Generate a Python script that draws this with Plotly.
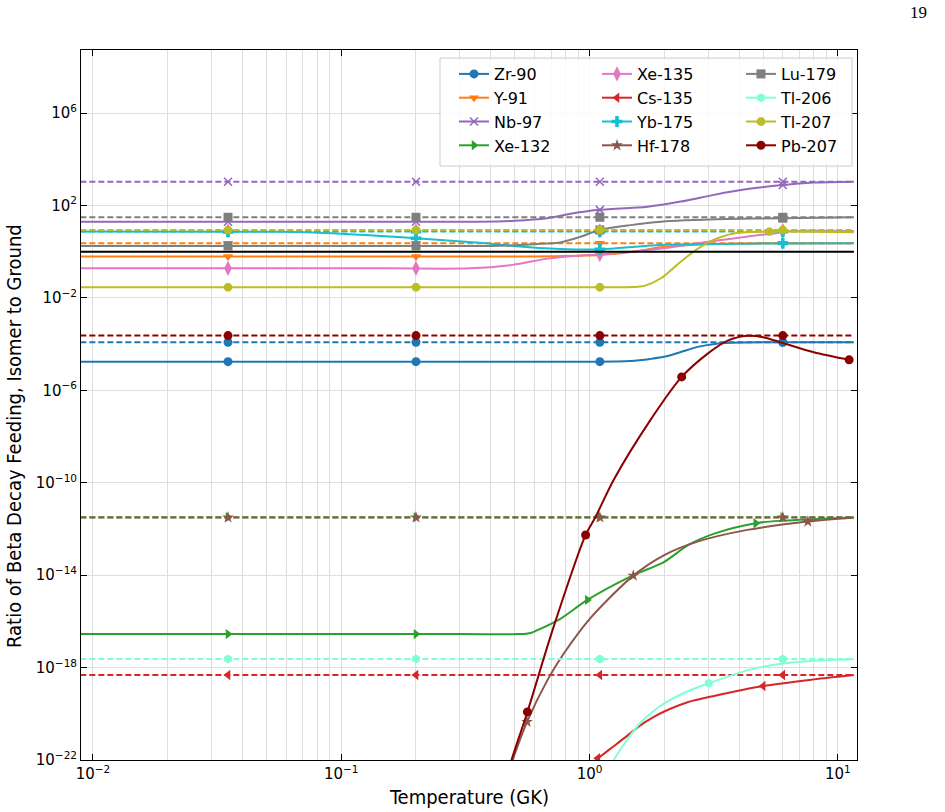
import plotly.graph_objects as go

# ---------------- data (log10 of the isomer/ground feeding ratio) ----------------
NAMES = ["Zr-90", "Y-91", "Nb-97", "Xe-132", "Xe-135", "Cs-135",
         "Yb-175", "Hf-178", "Lu-179", "Tl-206", "Tl-207", "Pb-207"]
COLORS = ["#1f77b4", "#ff7f0e", "#9467bd", "#2ca02c", "#e377c2", "#d62728",
          "#17becf", "#8c564b", "#7f7f7f", "#7fffd4", "#bcbd22", "#8b0000"]
SYMBOLS = ["circle", "triangle-down", "x-thin", "triangle-right", "diamond-tall",
           "triangle-left", "cross", "star", "square", "hexagon", "octagon", "circle"]

# dashed (constant) levels
DASH_LOG = [-3.92, 0.37, 3.03, -11.49, 0.90, -18.32, 0.87, -11.50, 1.49, -17.63, 0.94, -3.63]
DASH_T = [0.0089, 11.6]
DASH_MARK_T = [0.035, 0.2, 1.1, 6.0]
UNITY_T = [0.0089, 11.6]
UNITY = [1.0, 1.0]

# solid curves
ZR90_T = [0.0089, 0.5, 1.0, 1.25, 1.46, 1.76, 2.02, 2.4, 2.72, 3.2, 3.7, 5.0, 11.6]
ZR90_LOG = [-4.76, -4.76, -4.76, -4.75, -4.73, -4.64, -4.54, -4.30, -4.12, -3.99, -3.94, -3.92, -3.92]
ZR90_MK_T = [0.035, 0.2, 1.1, 6.0]
ZR90_MK_LOG = [-4.76, -4.76, -4.76, -3.92]

Y91_T = [0.0089, 0.3, 0.6, 0.92, 1.1, 1.5, 1.94, 2.86, 4.5, 6.0, 11.6]
Y91_LOG = [-0.21, -0.21, -0.21, -0.17, -0.14, 0.0, 0.19, 0.32, 0.36, 0.37, 0.37]
Y91_MK_T = [0.035, 0.2, 1.1, 6.0]
Y91_MK_LOG = [-0.21, -0.21, -0.14, 0.37]

NB97_T = [0.0089, 0.2, 0.36, 0.5, 0.675, 0.85, 1.07, 1.71, 2.33, 3.17, 4.32, 6.0, 8.0, 11.6]
NB97_LOG = [1.30, 1.30, 1.30, 1.34, 1.45, 1.65, 1.80, 1.95, 2.17, 2.46, 2.71, 2.89, 2.99, 3.03]
NB97_MK_T = [0.035, 0.2, 1.1, 6.0]
NB97_MK_LOG = [1.30, 1.30, 1.81, 2.89]

XE132_T = [0.0089, 0.3, 0.52, 0.58, 0.62, 0.76, 0.98, 1.46, 2.0, 2.5, 3.2, 4.67, 6.0, 11.6]
XE132_LOG = [-16.55, -16.55, -16.55, -16.5, -16.37, -15.9, -15.07, -14.06, -13.42, -12.69, -12.19, -11.75, -11.64, -11.50]
XE132_MK_T = [0.035, 0.2, 0.98, 4.67]
XE132_MK_LOG = [-16.55, -16.55, -15.07, -11.75]

XE135_T = [0.0089, 0.15, 0.33, 0.49, 0.675, 0.92, 1.1, 1.94, 3.05, 4.9, 5.6, 6.0, 11.6]
XE135_LOG = [-0.72, -0.72, -0.72, -0.57, -0.30, -0.16, -0.12, 0.14, 0.44, 0.73, 0.80, 0.88, 0.90]
XE135_MK_T = [0.035, 0.2, 1.1, 6.0]
XE135_MK_LOG = [-0.72, -0.72, -0.12, 0.88]

CS135_T = [1.06, 1.2, 1.4, 1.6, 1.8, 2.0, 2.48, 3.2, 5.0, 8.0, 11.6]
CS135_LOG = [-22.0, -21.55, -21.0, -20.5, -20.15, -19.9, -19.5, -19.22, -18.80, -18.51, -18.32]
CS135_MK_T = [1.08, 5.0]
CS135_MK_LOG = [-21.92, -18.80]

YB175_T = [0.0089, 0.057, 0.077, 0.144, 0.2, 0.36, 0.49, 0.76, 1.1, 1.94, 6.0, 11.6]
YB175_LOG = [0.87, 0.86, 0.83, 0.68, 0.58, 0.39, 0.25, 0.12, 0.10, 0.29, 0.36, 0.37]
YB175_MK_T = [0.035, 0.2, 1.1, 6.0]
YB175_MK_LOG = [0.87, 0.58, 0.10, 0.36]

HF178_T = [0.47, 0.49, 0.56, 0.68, 0.79, 1.0, 1.5, 2.0, 2.72, 4.32, 7.57, 11.6]
HF178_LOG = [-22.6, -22.0, -20.35, -18.5, -17.37, -15.9, -14.02, -13.13, -12.55, -12.04, -11.68, -11.50]
HF178_MK_T = [0.56, 1.5, 7.57]
HF178_MK_LOG = [-20.35, -14.02, -11.68]

LU179_T = [0.0089, 0.2, 0.4, 0.5, 0.675, 0.76, 0.92, 1.1, 1.46, 1.94, 3.6, 6.0, 11.6]
LU179_LOG = [0.25, 0.25, 0.25, 0.28, 0.35, 0.40, 0.65, 0.94, 1.15, 1.30, 1.41, 1.45, 1.49]
LU179_MK_T = [0.035, 0.2, 1.1, 6.0]
LU179_MK_LOG = [0.25, 0.25, 0.94, 1.45]

TL206_T = [1.25, 1.4, 1.6, 1.8, 2.0, 2.4, 3.02, 4.32, 5.9, 8.0, 11.6]
TL206_LOG = [-22.0, -21.2, -20.4, -19.9, -19.55, -19.1, -18.68, -18.12, -17.83, -17.70, -17.64]
TL206_MK_T = [3.02]
TL206_MK_LOG = [-18.68]

TL207_T = [0.0089, 0.5, 1.2, 1.5, 1.66, 1.94, 2.25, 2.62, 3.05, 3.85, 5.3, 11.6]
TL207_LOG = [-1.54, -1.54, -1.54, -1.53, -1.48, -1.15, -0.57, 0.0, 0.44, 0.80, 0.87, 0.84]
TL207_MK_T = [0.035, 0.2, 1.1, 5.3]
TL207_MK_LOG = [-1.54, -1.54, -1.54, 0.87]

PB207_T = [0.46, 0.485, 0.562, 0.71, 0.964, 1.057, 1.25, 1.76, 2.35, 3.0, 3.6, 4.33, 5.0, 6.0, 8.0, 11.1]
PB207_LOG = [-22.9, -22.0, -19.92, -16.37, -12.26, -11.48, -9.88, -7.28, -5.42, -4.40, -3.85, -3.64, -3.70, -3.95, -4.35, -4.68]
PB207_MK_T = [0.562, 0.964, 2.35, 11.1]
PB207_MK_LOG = [-19.92, -12.26, -5.42, -4.68]

SOLID_T = [ZR90_T, Y91_T, NB97_T, XE132_T, XE135_T, CS135_T,
           YB175_T, HF178_T, LU179_T, TL206_T, TL207_T, PB207_T]
SOLID_LOG = [ZR90_LOG, Y91_LOG, NB97_LOG, XE132_LOG, XE135_LOG, CS135_LOG,
             YB175_LOG, HF178_LOG, LU179_LOG, TL206_LOG, TL207_LOG, PB207_LOG]
MARK_T = [ZR90_MK_T, Y91_MK_T, NB97_MK_T, XE132_MK_T, XE135_MK_T, CS135_MK_T,
          YB175_MK_T, HF178_MK_T, LU179_MK_T, TL206_MK_T, TL207_MK_T, PB207_MK_T]
MARK_LOG = [ZR90_MK_LOG, Y91_MK_LOG, NB97_MK_LOG, XE132_MK_LOG, XE135_MK_LOG, CS135_MK_LOG,
            YB175_MK_LOG, HF178_MK_LOG, LU179_MK_LOG, TL206_MK_LOG, TL207_MK_LOG, PB207_MK_LOG]

X_TICKS = [0.01, 0.1, 1, 10]
X_TICKTEXT = ["10<sup>\u22122</sup>", "10<sup>\u22121</sup>", "10<sup>0</sup>", "10<sup>1</sup>"]
X_MINOR = [m * d for d in (0.01, 0.1, 1) for m in range(2, 10)]
Y_TICKS = [10.0 ** e for e in range(-22, 7, 4)]
Y_TICKTEXT = ["10<sup>%s</sup>" % (str(e).replace("-", "\u2212")) for e in range(-22, 7, 4)]

X_TITLE = "Temperature (GK)"
Y_TITLE = "Ratio of Beta Decay Feeding, Isomer to Ground"
PAGE_NUMBER = "19"

# ---------------- figure ----------------
fig = go.Figure()
LEGEND_OF = ["legend", "legend", "legend", "legend",
             "legend2", "legend2", "legend2", "legend2",
             "legend3", "legend3", "legend3", "legend3"]


def pow10(v):
    return [10.0 ** a for a in v]


def msym(i, size):
    d = dict(symbol=SYMBOLS[i], size=size, color=COLORS[i])
    if SYMBOLS[i] == "x-thin":
        d["line"] = dict(color=COLORS[i], width=1.5)
        d["size"] = size - 1
    elif SYMBOLS[i] == "diamond-tall":
        d["size"] = size + 2
    return d


for i, name in enumerate(NAMES):
    c = COLORS[i]
    lvl = 10.0 ** DASH_LOG[i]
    fig.add_trace(go.Scatter(x=DASH_T, y=[lvl] * len(DASH_T), mode="lines",
                             line=dict(color=c, width=2, dash="6px,3px"),
                             showlegend=False, hoverinfo="skip"))
    fig.add_trace(go.Scatter(x=DASH_MARK_T, y=[lvl] * len(DASH_MARK_T), mode="markers",
                             marker=msym(i, 9), showlegend=False, hoverinfo="skip"))
    fig.add_trace(go.Scatter(x=SOLID_T[i], y=pow10(SOLID_LOG[i]), mode="lines",
                             line=dict(color=c, width=2, shape="spline", smoothing=0.8),
                             showlegend=False, hoverinfo="skip"))
    fig.add_trace(go.Scatter(x=MARK_T[i], y=pow10(MARK_LOG[i]), mode="markers",
                             marker=msym(i, 9), showlegend=False, hoverinfo="skip"))

fig.add_trace(go.Scatter(x=UNITY_T, y=UNITY, mode="lines",
                         line=dict(color="black", width=2),
                         showlegend=False, hoverinfo="skip"))

# legend entries
for i, name in enumerate(NAMES):
    fig.add_trace(go.Scatter(x=[None], y=[None], mode="lines+markers", name=name,
                             line=dict(color=COLORS[i], width=2),
                             marker=msym(i, 9), legend=LEGEND_OF[i]))

PLOT_L, PLOT_R, PLOT_T, PLOT_B = 81, 857, 50, 760
W, H = 945, 812
pw = PLOT_R - PLOT_L
ph = PLOT_B - PLOT_T


def px(xp):
    return (xp - PLOT_L) / pw


def py(yp):
    return (PLOT_B - yp) / ph


leg_font = dict(family="DejaVu Sans", size=16, color="black")
common_leg = dict(bgcolor="rgba(0,0,0,0)", borderwidth=0, font=leg_font,
                  xanchor="left", yanchor="top", tracegroupgap=0, itemwidth=30)
title_font = dict(family="DejaVu Sans Condensed, Liberation Sans Narrow, DejaVu Sans",
                  size=20, color="black")

fig.update_layout(
    width=W, height=H,
    margin=dict(l=PLOT_L, r=W - PLOT_R, t=PLOT_T, b=H - PLOT_B, pad=0, autoexpand=False),
    paper_bgcolor="white", plot_bgcolor="white",
    legend=dict(x=px(454), y=py(57), **common_leg),
    legend2=dict(x=px(597), y=py(57), **common_leg),
    legend3=dict(x=px(741), y=py(57), **common_leg),
    shapes=[dict(type="rect", xref="paper", yref="paper",
                 x0=px(440), x1=px(852), y0=py(166), y1=py(58),
                 line=dict(color="#cccccc", width=1),
                 fillcolor="rgba(255,255,255,0.85)", layer="above")],
    annotations=[
        dict(text=PAGE_NUMBER, xref="paper", yref="paper", x=px(918), y=py(12),
             showarrow=False, xanchor="center", yanchor="middle",
             font=dict(family="Liberation Serif", size=17, color="black")),
        dict(text=Y_TITLE, xref="paper", yref="paper", x=px(14), y=py(436),
             textangle=-90, showarrow=False, xanchor="center", yanchor="middle",
             font=title_font),
        dict(text=X_TITLE, xref="paper", yref="paper", x=px(469), y=py(797),
             showarrow=False, xanchor="center", yanchor="middle",
             font=title_font),
    ],
)

axis_common = dict(showline=True, linecolor="black", linewidth=1, mirror="allticks",
                   ticks="inside", ticklen=6, tickcolor="black", tickwidth=1,
                   showgrid=True, gridcolor="#dedede", gridwidth=1, zeroline=False,
                   automargin=False,
                   tickfont=dict(family="DejaVu Sans", size=15, color="black"))

fig.update_xaxes(type="log", range=[-2.048, 1.077], tickmode="array",
                 tickvals=X_TICKS, ticktext=X_TICKTEXT,
                 minor=dict(tickmode="array", tickvals=X_MINOR, showgrid=True,
                            gridcolor="#dedede", gridwidth=1, ticks=""),
                 **axis_common)
fig.update_yaxes(type="log", range=[-22, 8.73], tickmode="array",
                 tickvals=Y_TICKS, ticktext=Y_TICKTEXT,
                 **axis_common)

fig.write_html("out.html")
